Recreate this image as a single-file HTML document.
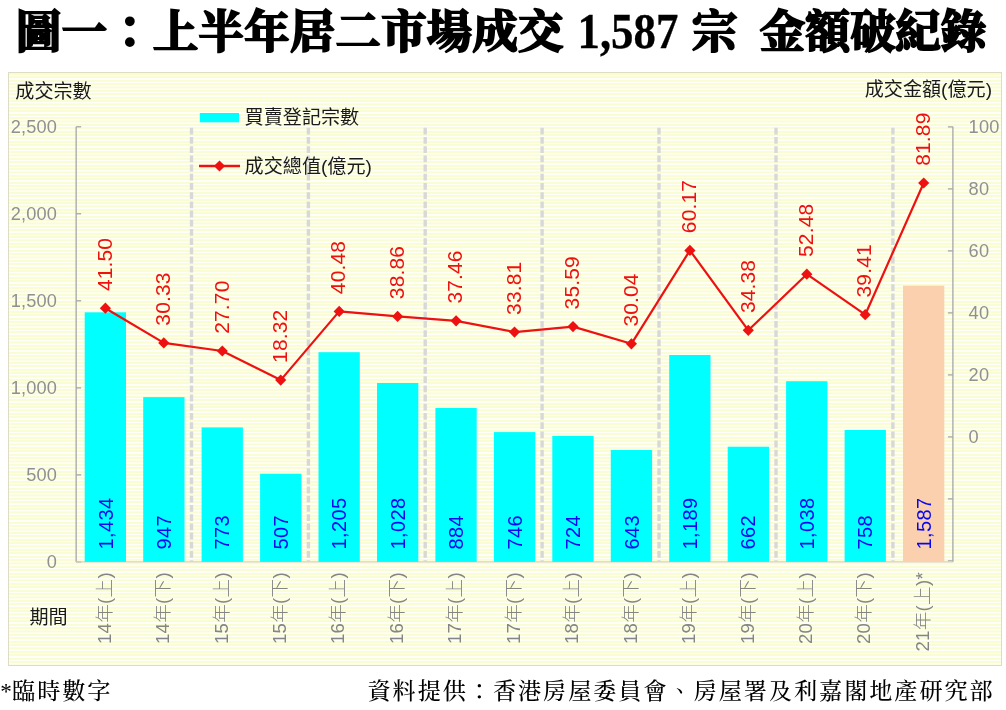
<!DOCTYPE html>
<html lang="zh-Hant">
<head>
<meta charset="utf-8">
<title>圖一：上半年居二市場成交 1,587 宗 金額破紀錄</title>
<style>
html,body{margin:0;padding:0;background:#fff;}
body{width:1006px;height:710px;position:relative;overflow:hidden;font-family:"Liberation Sans","Noto Sans CJK TC","Noto Sans CJK SC",sans-serif;}
#chart{position:absolute;left:8px;top:72px;width:994px;height:594px;box-sizing:border-box;border:1px solid #dedcc4;
 background:repeating-linear-gradient(to bottom,#fafdd3 0,#fafdd3 1.75px,#fffffa 2.0px,#fffffa 3.15px,#fafdd3 3.4px);}
.title{position:absolute;top:0.8px;height:64px;line-height:64px;white-space:nowrap;color:#000;font-weight:700;font-size:45.3px;-webkit-text-stroke:2.0px #000;
 font-family:"Liberation Serif","Noto Serif CJK TC","Noto Serif CJK SC",serif;}
.foot{position:absolute;top:673.2px;height:36px;line-height:36px;white-space:nowrap;color:#000;font-weight:500;font-size:23.2px;letter-spacing:1.9px;
 font-family:"Liberation Serif","Noto Serif CJK TC","Noto Serif CJK SC",serif;}
svg text{font-family:"Liberation Sans","Noto Sans CJK TC","Noto Sans CJK SC",sans-serif;}
.al text{font-size:18.2px;letter-spacing:0.2px;fill:#909090;font-weight:300;}
.cl text{font-size:18.6px;fill:#858585;font-weight:300;letter-spacing:0.3px;}
.bl text{font-size:20px;fill:#0808f0;letter-spacing:0.4px;}
.vl text{font-size:21px;fill:#ee1111;letter-spacing:0.15px;}
.tt text{font-size:19.1px;fill:#1a1a1a;}
</style>
</head>
<body>
<div id="chart"></div>
<div class="title" style="left:16px;letter-spacing:0.35px">圖一：上半年居二市場成交</div>
<div class="title" style="left:577.5px;-webkit-text-stroke:0.3px #000;font-size:44.8px;transform:scaleY(1.13);transform-origin:0 46.4px">1,587</div>
<div class="title" style="left:692px">宗</div>
<div class="title" style="left:759.7px">金額破紀錄</div>
<svg width="1006" height="710" viewBox="0 0 1006 710" style="position:absolute;left:0;top:0">
<g stroke="#a6a6a6" stroke-width="1.3" fill="none">
<path d="M76.15 126.8V561.9"/>
<path d="M76.15 561.9h5"/>
<path d="M76.15 474.9h5"/>
<path d="M76.15 387.9h5"/>
<path d="M76.15 300.8h5"/>
<path d="M76.15 213.8h5"/>
<path d="M76.15 126.8h5"/>
<path d="M952.9 126.8V561.9"/>
<path d="M952.9 560.9h-5"/>
<path d="M952.9 498.9h-5"/>
<path d="M952.9 436.9h-5"/>
<path d="M952.9 374.9h-5"/>
<path d="M952.9 312.9h-5"/>
<path d="M952.9 250.9h-5"/>
<path d="M952.9 188.9h-5"/>
<path d="M952.9 126.9h-5"/>
</g>
<path d="M76.15 561.9H952.9" stroke="#d9cfc0" stroke-width="1.3"/>
<g stroke="#d8d8d8" stroke-width="3.4" stroke-dasharray="6.8 2.4">
<path d="M191.5 127.8V561.9"/>
<path d="M308.4 127.8V561.9"/>
<path d="M425.2 127.8V561.9"/>
<path d="M542.1 127.8V561.9"/>
<path d="M659.0 127.8V561.9"/>
<path d="M776.0 127.8V561.9"/>
<path d="M892.9 127.8V561.9"/>
</g>
<rect x="84.7" y="312.3" width="41.3" height="249.6" fill="#00ffff"/>
<rect x="143.2" y="397.1" width="41.3" height="164.8" fill="#00ffff"/>
<rect x="201.6" y="427.4" width="41.3" height="134.5" fill="#00ffff"/>
<rect x="260.1" y="473.7" width="41.3" height="88.2" fill="#00ffff"/>
<rect x="318.5" y="352.2" width="41.3" height="209.7" fill="#00ffff"/>
<rect x="377.0" y="383.0" width="41.3" height="178.9" fill="#00ffff"/>
<rect x="435.4" y="408.0" width="41.3" height="153.9" fill="#00ffff"/>
<rect x="493.9" y="432.1" width="41.3" height="129.8" fill="#00ffff"/>
<rect x="552.3" y="435.9" width="41.3" height="126.0" fill="#00ffff"/>
<rect x="610.8" y="450.0" width="41.3" height="111.9" fill="#00ffff"/>
<rect x="669.2" y="355.0" width="41.3" height="206.9" fill="#00ffff"/>
<rect x="727.7" y="446.7" width="41.3" height="115.2" fill="#00ffff"/>
<rect x="786.1" y="381.2" width="41.3" height="180.7" fill="#00ffff"/>
<rect x="844.6" y="430.0" width="41.3" height="131.9" fill="#00ffff"/>
<rect x="903.0" y="285.7" width="41.3" height="276.2" fill="#fbd0ae"/>
<g class="bl">
<text transform="translate(112.5 549.6) rotate(-90)">1,434</text>
<text transform="translate(170.9 549.6) rotate(-90)">947</text>
<text transform="translate(229.4 549.6) rotate(-90)">773</text>
<text transform="translate(287.8 549.6) rotate(-90)">507</text>
<text transform="translate(346.3 549.6) rotate(-90)">1,205</text>
<text transform="translate(404.7 549.6) rotate(-90)">1,028</text>
<text transform="translate(463.2 549.6) rotate(-90)">884</text>
<text transform="translate(521.6 549.6) rotate(-90)">746</text>
<text transform="translate(580.1 549.6) rotate(-90)">724</text>
<text transform="translate(638.5 549.6) rotate(-90)">643</text>
<text transform="translate(697.0 549.6) rotate(-90)">1,189</text>
<text transform="translate(755.4 549.6) rotate(-90)">662</text>
<text transform="translate(813.9 549.6) rotate(-90)">1,038</text>
<text transform="translate(872.3 549.6) rotate(-90)">758</text>
<text transform="translate(930.8 549.6) rotate(-90)">1,587</text>
</g>
<polyline points="105.4,308.2 163.8,342.9 222.3,351.0 280.7,380.1 339.2,311.4 397.6,316.4 456.1,320.8 514.5,332.1 573.0,326.6 631.4,343.8 689.9,250.4 748.3,330.3 806.8,274.2 865.2,314.7 923.7,183.0" fill="none" stroke="#ee1111" stroke-width="2.2" stroke-linejoin="round"/>
<path d="M105.4 302.6l5.6 5.6l-5.6 5.6l-5.6-5.6z" fill="#ee1111"/>
<path d="M163.8 337.3l5.6 5.6l-5.6 5.6l-5.6-5.6z" fill="#ee1111"/>
<path d="M222.3 345.4l5.6 5.6l-5.6 5.6l-5.6-5.6z" fill="#ee1111"/>
<path d="M280.7 374.5l5.6 5.6l-5.6 5.6l-5.6-5.6z" fill="#ee1111"/>
<path d="M339.2 305.8l5.6 5.6l-5.6 5.6l-5.6-5.6z" fill="#ee1111"/>
<path d="M397.6 310.8l5.6 5.6l-5.6 5.6l-5.6-5.6z" fill="#ee1111"/>
<path d="M456.1 315.2l5.6 5.6l-5.6 5.6l-5.6-5.6z" fill="#ee1111"/>
<path d="M514.5 326.5l5.6 5.6l-5.6 5.6l-5.6-5.6z" fill="#ee1111"/>
<path d="M573.0 321.0l5.6 5.6l-5.6 5.6l-5.6-5.6z" fill="#ee1111"/>
<path d="M631.4 338.2l5.6 5.6l-5.6 5.6l-5.6-5.6z" fill="#ee1111"/>
<path d="M689.9 244.8l5.6 5.6l-5.6 5.6l-5.6-5.6z" fill="#ee1111"/>
<path d="M748.3 324.7l5.6 5.6l-5.6 5.6l-5.6-5.6z" fill="#ee1111"/>
<path d="M806.8 268.6l5.6 5.6l-5.6 5.6l-5.6-5.6z" fill="#ee1111"/>
<path d="M865.2 309.1l5.6 5.6l-5.6 5.6l-5.6-5.6z" fill="#ee1111"/>
<path d="M923.7 177.4l5.6 5.6l-5.6 5.6l-5.6-5.6z" fill="#ee1111"/>
<g class="vl">
<text transform="translate(111.6 291.1) rotate(-90)">41.50</text>
<text transform="translate(170.0 325.7) rotate(-90)">30.33</text>
<text transform="translate(228.5 333.8) rotate(-90)">27.70</text>
<text transform="translate(286.9 362.9) rotate(-90)">18.32</text>
<text transform="translate(345.4 294.2) rotate(-90)">40.48</text>
<text transform="translate(403.8 299.2) rotate(-90)">38.86</text>
<text transform="translate(462.3 303.6) rotate(-90)">37.46</text>
<text transform="translate(520.7 314.9) rotate(-90)">33.81</text>
<text transform="translate(579.2 309.4) rotate(-90)">35.59</text>
<text transform="translate(637.6 326.6) rotate(-90)">30.04</text>
<text transform="translate(696.1 233.2) rotate(-90)">60.17</text>
<text transform="translate(754.5 313.1) rotate(-90)">34.38</text>
<text transform="translate(813.0 257.0) rotate(-90)">52.48</text>
<text transform="translate(871.4 297.5) rotate(-90)">39.41</text>
<text transform="translate(929.9 165.8) rotate(-90)">81.89</text>
</g>
<g class="cl" text-anchor="end">
<text transform="translate(110.6 572.0) rotate(-90)">14年(上)</text>
<text transform="translate(169.0 572.0) rotate(-90)">14年(下)</text>
<text transform="translate(227.5 572.0) rotate(-90)">15年(上)</text>
<text transform="translate(285.9 572.0) rotate(-90)">15年(下)</text>
<text transform="translate(344.4 572.0) rotate(-90)">16年(上)</text>
<text transform="translate(402.8 572.0) rotate(-90)">16年(下)</text>
<text transform="translate(461.3 572.0) rotate(-90)">17年(上)</text>
<text transform="translate(519.7 572.0) rotate(-90)">17年(下)</text>
<text transform="translate(578.2 572.0) rotate(-90)">18年(上)</text>
<text transform="translate(636.6 572.0) rotate(-90)">18年(下)</text>
<text transform="translate(695.1 572.0) rotate(-90)">19年(上)</text>
<text transform="translate(753.5 572.0) rotate(-90)">19年(下)</text>
<text transform="translate(812.0 572.0) rotate(-90)">20年(上)</text>
<text transform="translate(870.4 572.0) rotate(-90)">20年(下)</text>
<text transform="translate(928.9 572.0) rotate(-90)">21年(上)*</text>
</g>
<g class="al" text-anchor="end">
<text x="57.2" y="568.3">0</text>
<text x="57.2" y="481.3">500</text>
<text x="57.2" y="394.3">1,000</text>
<text x="57.2" y="307.2">1,500</text>
<text x="57.2" y="220.2">2,000</text>
<text x="57.2" y="133.2">2,500</text>
</g>
<g class="al">
<text x="968.6" y="443.3">0</text>
<text x="968.6" y="381.3">20</text>
<text x="968.6" y="319.3">40</text>
<text x="968.6" y="257.3">60</text>
<text x="968.6" y="195.3">80</text>
<text x="968.6" y="133.3">100</text>
</g>
<g class="tt">
<text x="15.3" y="97.6">成交宗數</text>
<text x="992" y="96" text-anchor="end">成交金額(億元)</text>
<text x="244.6" y="123.6">買賣登記宗數</text>
<text x="244.6" y="172.8">成交總值(億元)</text>
<text x="29.5" y="623.8">期間</text>
</g>
<rect x="199.8" y="113" width="39.2" height="9.3" fill="#00ffff"/>
<path d="M199 166H240" stroke="#ee1111" stroke-width="2.4"/>
<path d="M219.5 160.4l5.6 5.6l-5.6 5.6l-5.6-5.6z" fill="#ee1111"/>
</svg>
<div class="foot" style="left:0.3px"><span style="letter-spacing:0.2px">*</span>臨時數字</div>
<div class="foot" style="left:367.5px">資料提供：香港房屋委員會、房屋署及利嘉閣地產研究部</div>
</body>
</html>
